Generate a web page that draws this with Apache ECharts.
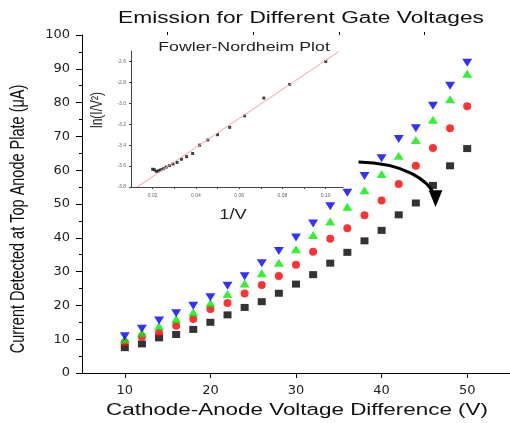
<!DOCTYPE html>
<html><head><meta charset="utf-8">
<script src="https://cdn.jsdelivr.net/npm/echarts@6/dist/echarts.min.js"></script>
<style>html,body{margin:0;padding:0;background:#fff}#c{width:510px;height:423px}</style>
</head><body><div id="c"></div>
<script>
// ---- data ----
var voltages = [10,12,14,16,18,20,22,24,26,28,30,32,34,36,38,40,42,44,46,48,50];
var seriesBlack = [7.5,8.6,10.4,11.4,12.9,15.0,17.2,19.4,21.1,23.6,26.3,29.1,32.5,35.7,39.1,42.2,46.8,50.3,55.5,61.3,66.4];
var seriesRed   = [9.1,10.7,11.9,14.0,16.0,18.9,20.7,23.5,26.0,28.7,32.0,35.9,39.7,42.8,46.7,51.0,55.9,61.3,66.6,72.4,78.9];
var seriesGreen = [10.0,11.9,13.9,16.0,18.0,20.7,23.4,26.5,29.5,32.6,36.6,40.8,44.8,49.2,54.1,58.9,64.3,68.9,74.9,81.0,88.5];
var seriesBlue  = [10.9,13.1,15.5,17.7,19.9,22.4,25.8,28.6,32.5,36.1,40.1,44.2,49.3,53.3,58.3,63.5,69.2,72.4,79.1,85.0,91.8];
var xTickLabels = [10,20,30,40,50];
var xMinorTicks = [15,25,35,45];

var fnInvV = [0.1,0.0833,0.0714,0.0625,0.0556,0.05,0.0455,0.0417,0.0385,0.0357,0.0333,0.0313,0.0294,0.0278,0.0263,0.025,0.0238,0.0227,0.0217,0.0208,0.02];
var fnLn   = [-2.60,-2.82,-2.95,-3.12,-3.23,-3.30,-3.35,-3.40,-3.48,-3.51,-3.535,-3.565,-3.58,-3.595,-3.61,-3.625,-3.635,-3.645,-3.65,-3.635,-3.63];
var fitX = [0.0128,0.1061];
var fitY = [-3.8,-2.505];
var insetXTicks = [0.02,0.03,0.04,0.05,0.06,0.07,0.08,0.09,0.10];
var insetXLabels = [0.02,0.04,0.06,0.08,0.10];
var insetYLabels = [-3.8,-3.6,-3.4,-3.2,-3.0,-2.8,-2.6];

// annotation arrow (data coords of main plot)
var arrowPath = [[37.3,62.4],[42.6,62.1],[45.5,57.1],[46.2,52.4]];
var arrowHead = [[45.5,54.1],[47.1,54.1],[46.3,49.1]];

function pairs(xs, ys){ return xs.map(function(x,i){ return [x, ys[i]]; }); }

var chart = echarts.init(document.getElementById('c'), null, {renderer:'canvas'});
var tickFont = {fontFamily:'DejaVu Sans', fontSize:13, color:'#222'};

var option = {
  animation:false,
  backgroundColor:'#fff',
  grid:[
    {left:82, right:0, top:35, bottom:50, containLabel:false},
    {left:131, right:167, top:51, bottom:236, containLabel:false}
  ],
  xAxis:[
    {gridIndex:0, type:'value', min:5, max:55,
     axisLine:{show:true, onZero:false, lineStyle:{color:'#000', width:1}},
     axisTick:{show:true, customValues:xTickLabels, length:5, lineStyle:{color:'#000'}},
     axisLabel:{customValues:xTickLabels, margin:11, fontFamily:tickFont.fontFamily, fontSize:tickFont.fontSize, color:tickFont.color},
     splitLine:{show:false}},
    {gridIndex:0, type:'value', min:5, max:55,
     axisLine:{show:false, onZero:false},
     axisTick:{show:true, customValues:xMinorTicks, length:3, lineStyle:{color:'#000'}},
     axisLabel:{show:false}, splitLine:{show:false}},
    {gridIndex:1, type:'value', min:0.01, max:0.108,
     axisLine:{show:true, onZero:false, lineStyle:{color:'#444', width:1}},
     axisTick:{show:true, customValues:insetXTicks, length:2, lineStyle:{color:'#444'}},
     axisLabel:{customValues:insetXLabels, margin:6, fontSize:5, color:'#666', fontFamily:'Liberation Sans',
       formatter:function(v){ return v.toFixed(2); }},
     splitLine:{show:false}}
  ],
  yAxis:[
    {gridIndex:0, type:'value', min:0, max:100, interval:10,
     axisLine:{show:true, onZero:false, lineStyle:{color:'#000', width:1}},
     axisTick:{show:true, length:6, lineStyle:{color:'#000'}},
     minorTick:{show:true, splitNumber:2, length:3, lineStyle:{color:'#000'}},
     axisLabel:{margin:12, fontFamily:tickFont.fontFamily, fontSize:tickFont.fontSize, color:tickFont.color},
     splitLine:{show:false}},
    {gridIndex:1, type:'value', min:-3.8, max:-2.5,
     axisLine:{show:true, onZero:false, lineStyle:{color:'#444', width:1}},
     axisTick:{show:true, customValues:insetYLabels, length:2, lineStyle:{color:'#444'}},
     axisLabel:{customValues:insetYLabels, margin:5, fontSize:5, color:'#666', fontFamily:'Liberation Sans',
       formatter:function(v){ return v.toFixed(1); }},
     splitLine:{show:false}}
  ],
  series:[
    {type:'scatter', name:'Gate 1', xAxisIndex:0, yAxisIndex:0, data:pairs(voltages, seriesBlack),
     symbol:'rect', symbolSize:[8,7], itemStyle:{color:'#000'}},
    {type:'scatter', name:'Gate 2', xAxisIndex:0, yAxisIndex:0, data:pairs(voltages, seriesRed),
     symbol:'circle', symbolSize:8, itemStyle:{color:'#ff0000'}},
    {type:'scatter', name:'Gate 3', xAxisIndex:0, yAxisIndex:0, data:pairs(voltages, seriesGreen),
     symbol:'triangle', symbolSize:[10,8], itemStyle:{color:'#00ee00'}},
    {type:'scatter', name:'Gate 4', xAxisIndex:0, yAxisIndex:0, data:pairs(voltages, seriesBlue),
     symbol:'triangle', symbolRotate:180, symbolSize:[10,8], itemStyle:{color:'#0000ff'}},
    {type:'line', name:'Fit', xAxisIndex:2, yAxisIndex:1, data:pairs(fitX, fitY),
     showSymbol:false, symbol:'none', lineStyle:{color:'#f4a0a0', width:1}, clip:true},
    {type:'scatter', name:'FN', xAxisIndex:2, yAxisIndex:1, data:pairs(fnInvV, fnLn),
     symbol:'rect', symbolSize:3, itemStyle:{color:'#111'}}
  ],
  graphic:[
    {type:'text', x:301, y:19, scaleX:1.42, style:{text:'Emission for Different Gate Voltages', font:'16px "Liberation Sans"', fill:'#111', align:'center', verticalAlign:'middle', textAlign:'center', textVerticalAlign:'middle'}},
    {type:'text', x:297, y:411, scaleX:1.40, style:{text:'Cathode-Anode Voltage Difference (V)', font:'16px "Liberation Sans"', fill:'#111', align:'center', verticalAlign:'middle', textAlign:'center', textVerticalAlign:'middle'}},
    {type:'text', x:18, y:219, rotation:Math.PI/2, scaleY:1.4, style:{text:'Current Detected at Top Anode Plate (\u03bcA)', font:'14.5px "Liberation Sans"', fill:'#111', align:'center', verticalAlign:'middle', textAlign:'center', textVerticalAlign:'middle'}},
    {type:'text', x:244, y:48, scaleX:1.42, style:{text:'Fowler-Nordheim Plot', font:'12.5px "Liberation Sans"', fill:'#222', align:'center', verticalAlign:'middle', textAlign:'center', textVerticalAlign:'middle'}},
    {type:'text', x:233, y:215, scaleX:1.3, style:{text:'1/V', font:'14px "Liberation Sans"', fill:'#222', align:'center', verticalAlign:'middle', textAlign:'center', textVerticalAlign:'middle'}},
    {type:'text', x:98, y:110, rotation:Math.PI/2, scaleY:1.3, style:{text:'ln(I/V\u00b2)', font:'12px "Liberation Sans"', fill:'#222', align:'center', verticalAlign:'middle', textAlign:'center', textVerticalAlign:'middle'}}
  ]
};
chart.setOption(option);

// arrow annotation positioned through the main grid's scale
var p = arrowPath.map(function(d){ return chart.convertToPixel({gridIndex:0}, d); });
var h = arrowHead.map(function(d){ return chart.convertToPixel({gridIndex:0}, d); });
chart.setOption({graphic: option.graphic.concat([
  {type:'bezierCurve', shape:{x1:p[0][0], y1:p[0][1], cpx1:p[1][0], cpy1:p[1][1], cpx2:p[2][0], cpy2:p[2][1], x2:p[3][0], y2:p[3][1]},
   style:{stroke:'#000', lineWidth:3, fill:null}, z:100},
  {type:'polygon', shape:{points:h}, style:{fill:'#000'}, z:100}
])});
</script>
</body></html>
